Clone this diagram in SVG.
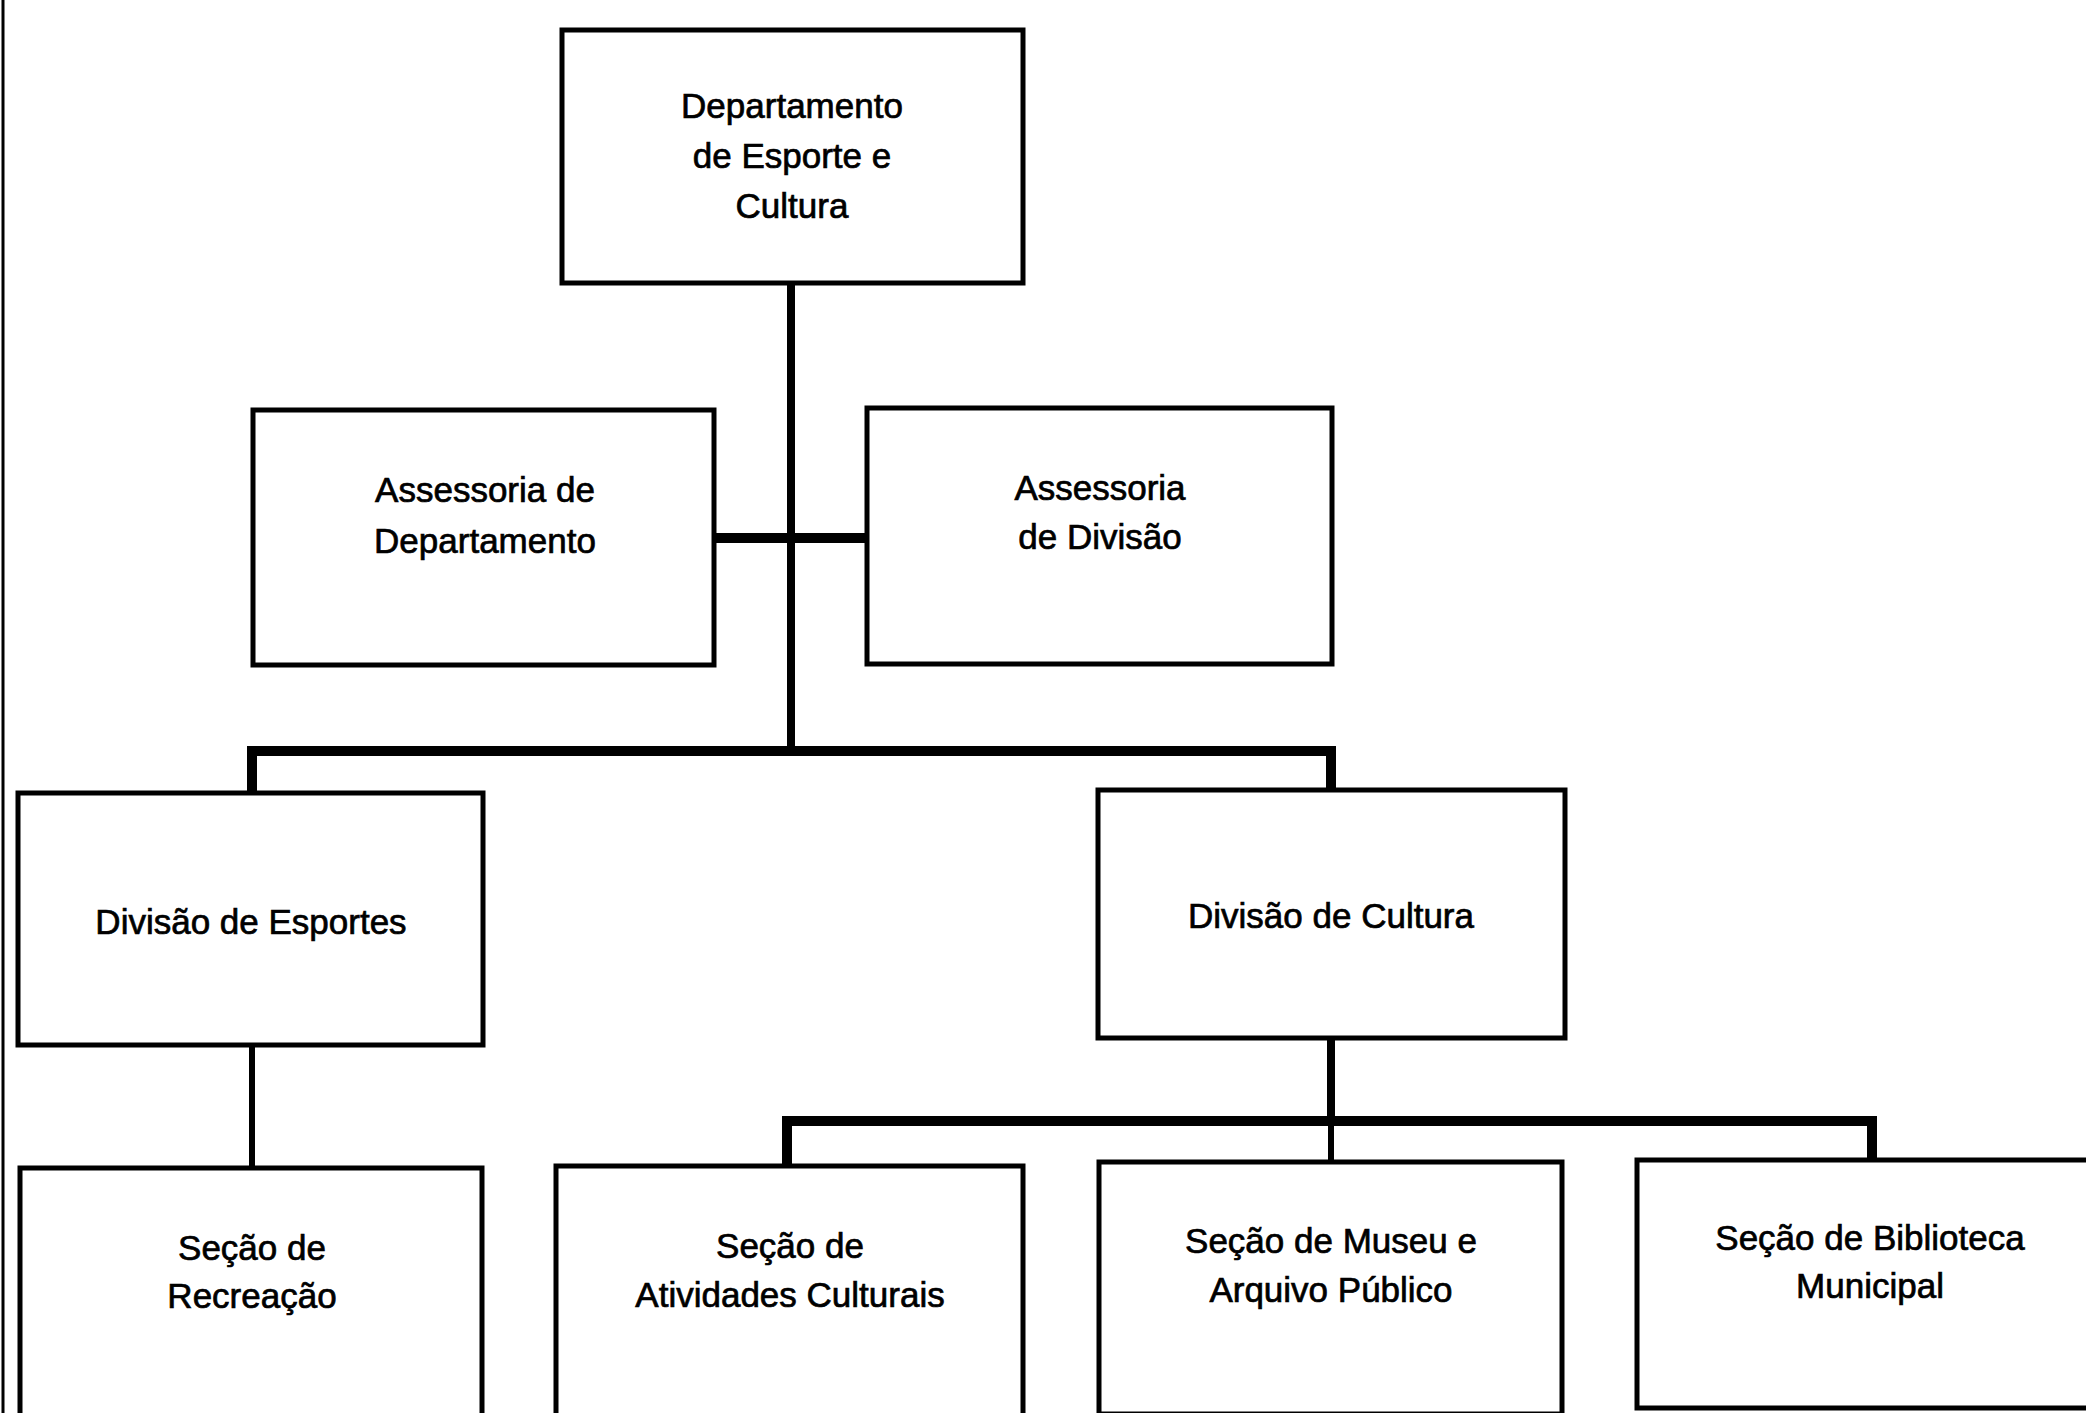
<svg xmlns="http://www.w3.org/2000/svg" width="2086" height="1413" viewBox="0 0 2086 1413">
  <style>
    .box { fill: #ffffff; stroke: #000000; stroke-width: 5; }
    .lbl { font-family: "Liberation Sans", Arial, sans-serif; font-size: 35px; fill: #000000; stroke: #000000; stroke-width: 0.7; text-anchor: middle; }
    .wire { fill: none; stroke: #000000; stroke-linecap: square; stroke-linejoin: miter; }
    .thick { stroke-width: 10; }
    .mid { stroke-width: 8; }
    .thin { stroke-width: 6; }
  </style>

  <rect x="0" y="0" width="2086" height="1413" fill="#ffffff"/>

  <!-- page margin rule on the left -->
  <line x1="3" y1="0" x2="3" y2="1413" stroke="#000000" stroke-width="3"/>

  <!-- connectors -->
  <g id="connectors">
    <!-- department trunk -->
    <line class="wire mid" x1="791" y1="283" x2="791" y2="751"/>
    <!-- staff advisory branch -->
    <line class="wire thick" x1="714" y1="538" x2="867" y2="538"/>
    <!-- division bar -->
    <polyline class="wire thick" points="252,793 252,751 1331,751 1331,790"/>
    <!-- sports division to recreation section -->
    <line class="wire thin" x1="252" y1="1045" x2="252" y2="1168"/>
    <!-- culture division to its sections -->
    <line class="wire mid" x1="1331" y1="1038" x2="1331" y2="1121"/>
    <polyline class="wire thick" points="787,1166 787,1121 1872,1121 1872,1160"/>
    <line class="wire thin" x1="1331" y1="1121" x2="1331" y2="1162"/>
  </g>

  <g id="dept">
    <rect class="box" x="562" y="30" width="461" height="253"/>
    <text class="lbl" x="792" y="118">Departamento</text>
    <text class="lbl" x="792" y="168">de Esporte e</text>
    <text class="lbl" x="792" y="218">Cultura</text>
  </g>

  <g id="assess-dept">
    <rect class="box" x="253" y="410" width="461" height="255"/>
    <text class="lbl" x="485" y="502">Assessoria de</text>
    <text class="lbl" x="485" y="553">Departamento</text>
  </g>

  <g id="assess-div">
    <rect class="box" x="867" y="408" width="465" height="256"/>
    <text class="lbl" x="1100" y="500">Assessoria</text>
    <text class="lbl" x="1100" y="549">de Divisão</text>
  </g>

  <g id="div-esportes">
    <rect class="box" x="18" y="793" width="465" height="252"/>
    <text class="lbl" x="251" y="934">Divisão de Esportes</text>
  </g>

  <g id="div-cultura">
    <rect class="box" x="1098" y="790" width="467" height="248"/>
    <text class="lbl" x="1331" y="928">Divisão de Cultura</text>
  </g>

  <g id="sec-recreacao">
    <rect class="box" x="20" y="1168" width="462" height="250"/>
    <text class="lbl" x="252" y="1260">Seção de</text>
    <text class="lbl" x="252" y="1308">Recreação</text>
  </g>

  <g id="sec-atividades">
    <rect class="box" x="556" y="1166" width="467" height="250"/>
    <text class="lbl" x="790" y="1258">Seção de</text>
    <text class="lbl" x="790" y="1307">Atividades Culturais</text>
  </g>

  <g id="sec-museu">
    <rect class="box" x="1099" y="1162" width="463" height="252"/>
    <text class="lbl" x="1331" y="1253">Seção de Museu e</text>
    <text class="lbl" x="1331" y="1302">Arquivo Público</text>
  </g>

  <g id="sec-biblioteca">
    <rect class="box" x="1637" y="1160" width="470" height="248"/>
    <text class="lbl" x="1870" y="1250">Seção de Biblioteca</text>
    <text class="lbl" x="1870" y="1298">Municipal</text>
  </g>
</svg>
